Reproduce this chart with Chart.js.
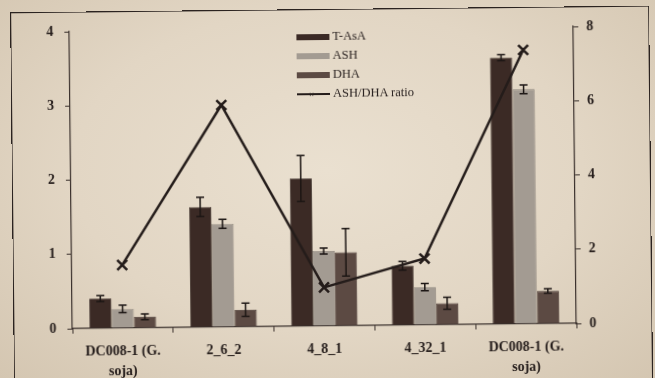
<!DOCTYPE html>
<html>
<head>
<meta charset="utf-8">
<script src="https://cdn.jsdelivr.net/npm/chart.js@4.4.1/dist/chart.umd.min.js"></script>
<style>
  html, body { margin: 0; padding: 0; }
  body {
    width: 655px; height: 378px; overflow: hidden;
    background: radial-gradient(ellipse at 50% 45%, #eae0d0 0%, #e2d6c4 55%, #d4c6b1 100%);
  }
  #wrap {
    position: absolute; left: 0; top: 0; width: 655px; height: 378px;
    transform: rotate(-0.6deg); transform-origin: 327px 189px;
  }
  #frame {
    position: absolute; left: 12px; top: 9px; width: 639px; height: 400px;
    border: 1.6px solid #2b2320; box-sizing: border-box;
  }
  #legend {
    position: absolute; left: 298px; top: 27px;
    font-family: "Liberation Serif", serif; font-size: 12.5px; color: #2a2220;
  }
  .item { height: 19px; display: flex; align-items: center; }
  .sw { width: 33px; height: 6px; margin-right: 3px; position: relative; }
  .ln { width: 33px; height: 2px; margin-right: 3px; position: relative; }
  .ln span { position: absolute; left: 12px; top: -3px; font-size: 9px; line-height: 8px; }
</style>
</head>
<body>
<div id="wrap">
  <div id="frame"></div>
  <canvas id="myChart" width="655" height="378"></canvas>
  <div id="legend"></div>
</div>
<script>
const categories = [['DC008-1 (G.', 'soja)'], '2_6_2', '4_8_1', '4_32_1', ['DC008-1 (G.', 'soja)']];
const tAsA = [0.40, 1.62, 1.99, 0.80, 3.59];
const tAsAErr = [0.04, 0.13, 0.31, 0.06, 0.04];
const ash = [0.26, 1.39, 1.01, 0.51, 3.16];
const ashErr = [0.05, 0.06, 0.04, 0.05, 0.06];
const dha = [0.15, 0.23, 0.99, 0.29, 0.44];
const dhaErr = [0.04, 0.09, 0.32, 0.08, 0.03];
const ratio = [1.70, 5.98, 1.04, 1.79, 7.38];
const leftTicks = [0, 1, 2, 3, 4];
const rightTicks = [0, 2, 4, 6, 8];

const ink = '#241c1a';
const font = { family: '"Liberation Serif", serif', size: 14, weight: 'bold', lineHeight: 1.45 };

// error bars drawn with the value scale of each bar dataset
const errorBars = {
  id: 'errorBars',
  afterDatasetDraw(chart, args) {
    const ds = chart.data.datasets[args.index];
    if (!ds.errors) return;
    const y = chart.scales.y;
    const ctx = chart.ctx;
    ctx.save();
    ctx.strokeStyle = '#1c1614';
    ctx.lineWidth = 1.5;
    args.meta.data.forEach((bar, i) => {
      const v = ds.data[i], e = ds.errors[i];
      const top = y.getPixelForValue(v + e), bot = y.getPixelForValue(v - e);
      ctx.beginPath();
      ctx.moveTo(bar.x, top); ctx.lineTo(bar.x, bot);
      ctx.moveTo(bar.x - 4, top); ctx.lineTo(bar.x + 4, top);
      ctx.moveTo(bar.x - 4, bot); ctx.lineTo(bar.x + 4, bot);
      ctx.stroke();
    });
    ctx.restore();
  }
};

const axisGrid = { drawOnChartArea: false, drawTicks: true, tickLength: 5, color: '#3a302c', lineWidth: 1 };
const axisBorder = { display: true, color: '#3a302c', width: 1.2 };

const ctx = document.getElementById('myChart');
const myChart = new Chart(ctx, {
  data: {
    labels: categories,
    datasets: [
      { type: 'line', label: 'ASH/DHA ratio', data: ratio, yAxisID: 'y2', order: 0,
        borderColor: ink, borderWidth: 2.5, pointStyle: 'crossRot', pointRadius: 7,
        pointBorderWidth: 2.5, pointBorderColor: ink, pointBackgroundColor: ink, tension: 0 },
      { type: 'bar', label: 'T-AsA', data: tAsA, errors: tAsAErr, yAxisID: 'y', order: 1,
        backgroundColor: '#3b2a25', borderColor: '#2e211d', borderWidth: 0.8 },
      { type: 'bar', label: 'ASH', data: ash, errors: ashErr, yAxisID: 'y', order: 1,
        backgroundColor: '#a39b92', borderColor: '#8f877e', borderWidth: 0.8 },
      { type: 'bar', label: 'DHA', data: dha, errors: dhaErr, yAxisID: 'y', order: 1,
        backgroundColor: '#5c4a43', borderColor: '#4a3b35', borderWidth: 0.8 }
    ]
  },
  options: {
    responsive: false,
    animation: false,
    events: [],
    layout: { padding: { top: 29, left: 0, right: 0, bottom: 0 } },
    datasets: { bar: { categoryPercentage: 0.66, barPercentage: 1.0 } },
    plugins: { legend: { display: false }, tooltip: { enabled: false } },
    scales: {
      x: {
        grid: { ...axisGrid, offset: true },
        border: axisBorder,
        ticks: { color: ink, font: font, padding: 8, maxRotation: 0, autoSkip: false },
        afterFit(s) { s.height = 52; }
      },
      y: {
        position: 'left', min: 0, max: 4,
        grid: axisGrid, border: axisBorder,
        afterBuildTicks(s) { s.ticks = leftTicks.map(v => ({ value: v })); },
        ticks: { color: ink, font: font, padding: 11 },
        afterFit(s) { s.width = 71; }
      },
      y2: {
        position: 'right', min: 0, max: 8,
        grid: axisGrid, border: axisBorder,
        afterBuildTicks(s) { s.ticks = rightTicks.map(v => ({ value: v })); },
        ticks: { color: ink, font: font, padding: 8 },
        afterFit(s) { s.width = 80; }
      }
    }
  },
  plugins: [errorBars]
});

// stacked legend built from the chart's datasets
const legendOrder = ['T-AsA', 'ASH', 'DHA', 'ASH/DHA ratio'];
const legend = document.getElementById('legend');
legendOrder.forEach(name => {
  const ds = myChart.data.datasets.find(d => d.label === name);
  const row = document.createElement('div');
  row.className = 'item';
  const mark = document.createElement('div');
  if (ds.type === 'bar') {
    mark.className = 'sw';
    mark.style.background = ds.backgroundColor;
  } else {
    mark.className = 'ln';
    mark.style.background = ds.borderColor;
    mark.innerHTML = '<span>&times;</span>';
  }
  row.appendChild(mark);
  row.appendChild(document.createTextNode(name));
  legend.appendChild(row);
});
</script>
</body>
</html>
